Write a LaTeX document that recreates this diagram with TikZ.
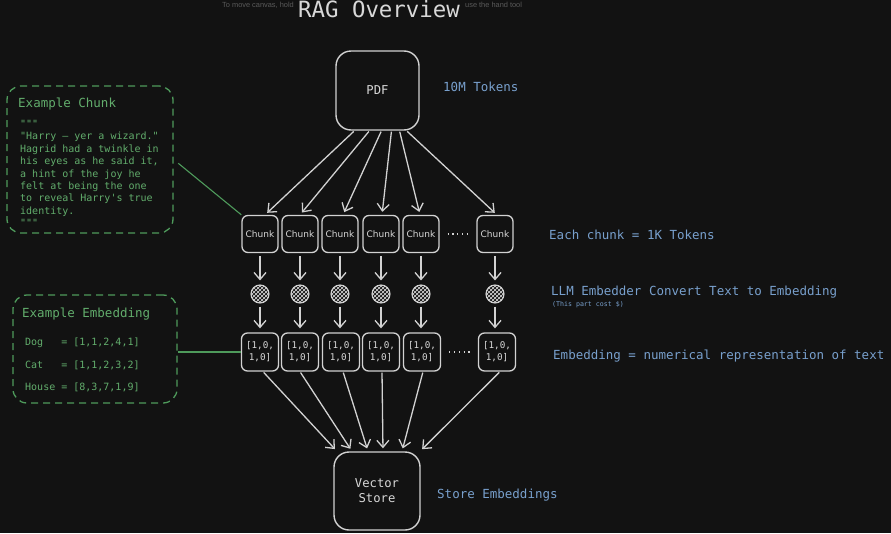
\documentclass[tikz,border=0pt]{standalone}
\usepackage{fontspec}
\setmainfont{Liberation Sans}
\setmonofont{DejaVu Sans Mono}
\setsansfont{DejaVu Sans}
\usetikzlibrary{arrows.meta,calc}
\definecolor{bg}{HTML}{121212}
\definecolor{linec}{HTML}{D2D2D2}
\definecolor{boxtext}{HTML}{D8D8D8}
\definecolor{grn}{HTML}{62AD6C}
\definecolor{grnline}{HTML}{4E9A5B}
\definecolor{blu}{HTML}{78A0CD}
\definecolor{hintc}{HTML}{5A5A5A}
\newcommand\myfs[2]{\fontsize{#1}{#2}\selectfont}
\tikzset{
  bigbox/.style={draw=linec, line width=1.4, rounded corners=15, text=boxtext, font=\ttfamily\myfs{12.2}{15}, align=center},
  chunkbox/.style={draw=linec, line width=1.3, rounded corners=6, minimum width=36, minimum height=37, inner sep=0, text=boxtext, font=\sffamily\myfs{9}{10}},
  embbox/.style={draw=linec, line width=1.3, rounded corners=6, minimum width=37, minimum height=38, inner sep=0, text=boxtext, align=center, font=\ttfamily\myfs{9.3}{12}},
  globe/.style={circle, draw=linec, line width=1.1, minimum size=18, inner sep=0,
    path picture={
      \foreach \i in {-12,-8,...,12}{
        \draw[linec, line width=0.7] ([shift={(\i-12,-12)}]path picture bounding box.center) -- ++(24,24);
        \draw[linec, line width=0.7] ([shift={(\i-12,12)}]path picture bounding box.center) -- ++(24,-24);
      }}},
  arr/.style={draw=linec, line width=1.3, -{Straight Barb[length=7,width=12]}},
  dotsline/.style={draw=linec, line width=1.3, dash pattern=on 1.2 off 3.6},
  exbox/.style={draw=grnline, line width=1.3, dash pattern=on 7 off 5, rounded corners=14},
  grntext/.style={text=grn, inner sep=0, anchor=west},
  blutext/.style={text=blu, inner sep=0, anchor=west, font=\ttfamily\myfs{12.5}{15}},
  gconn/.style={draw=grnline, line width=1.1},
}
\begin{document}
\begin{tikzpicture}[x=1pt,y=-1pt]
\fill[bg] (0,0) rectangle (891,533);
\useasboundingbox (0,0) rectangle (891,533);

% hint and title
\node[text=hintc, font=\rmfamily\myfs{7.4}{9}, inner sep=0, anchor=east] (hintl) at (294,5) {To move canvas, hold};
\node[text=hintc, font=\rmfamily\myfs{7.4}{9}, inner sep=0, anchor=west] (hintr) at (465,5) {use the hand tool};
\node[text=boxtext, font=\ttfamily\myfs{22.4}{26}, anchor=base, inner sep=0] (title) at (379,17) {RAG Overview};

% PDF
\node[bigbox, minimum width=83, minimum height=79] (pdf) at (377.5,90.5) {PDF};
\node[blutext] (t10m) at (443,87) {10M Tokens};

% chunks, globes, embeddings
\foreach \n/\x/\ex in {1/260/260, 2/300/300, 3/340/341, 4/381/381, 5/421/422, 6/495/497}{
  \node[chunkbox] (c\n) at (\x,234) {Chunk};
  \node[globe] (g\n) at (\x,294) {};
  \node[embbox] (e\n) at (\ex,352) {[1,0,\\1,0]};
}
\foreach \n in {1,...,6}{
  \draw[arr, shorten <=3, shorten >=4] (c\n.south) -- (c\n.south |- g\n.north);
  \draw[arr, shorten <=3, shorten >=4] (g\n.south) -- (g\n.south |- e\n.north);
}
\draw[dotsline] ([xshift=8]c5.east) -- ([xshift=-5]c6.west);
\draw[dotsline] ([xshift=8]e5.east) -- ([xshift=-5]e6.west);

% PDF -> chunks
\foreach \n/\o/\t in {1/-23/5, 2/-8/0, 3/4/3, 4/14/1, 5/22/-1, 6/29/2}{
  \draw[arr, shorten <=1, shorten >=3] ([xshift=\o]pdf.south) -- ([xshift=\t]c\n.north);
}

% Vector store
\node[bigbox, minimum width=86, minimum height=78] (vs) at (377,491) {Vector\\Store};
\node[blutext] (tstore) at (437,495) {Store Embeddings};

% embeddings -> vector store
\foreach \n/\o/\t in {1/3/-40, 2/0/-25, 3/2/-9, 4/1/6, 5/1/25, 6/3/43}{
  \draw[arr, shorten <=1, shorten >=3] ([xshift=\o]e\n.south) -- ([xshift=\t]vs.north);
}

% right labels
\node[blutext] (tchunk) at (549,235) {Each chunk = 1K Tokens};
\node[blutext] (tllm) at (551,292) {LLM Embedder Convert Text to Embedding};
\node[blutext, font=\ttfamily\myfs{6.6}{8}] (tcost) at (552,305) {(This part cost \$)};
\node[blutext] (temb) at (553,356) {Embedding = numerical representation of text};

% Example chunk
\node[exbox, minimum width=166, minimum height=147] (exc) at (90,159.5) {};
\node[grntext, font=\ttfamily\myfs{12.5}{15}] (exct) at (18,104) {Example Chunk};
\node[text=grn, inner sep=0, anchor=north west, align=left, font=\ttfamily\myfs{10}{12.4}] (excbody) at (20,120) {"""\\"Harry – yer a wizard."\\Hagrid had a twinkle in\\his eyes as he said it,\\a hint of the joy he\\felt at being the one\\to reveal Harry's true\\identity.\\"""};
\draw[gconn, shorten <=6] (exc.east) -- (c1.north west);

% Example embedding
\node[exbox, minimum width=164, minimum height=108] (exe) at (95,349) {};
\node[grntext, font=\ttfamily\myfs{12.5}{15}] (exet) at (22,314) {Example Embedding};
\node[grntext, font=\ttfamily\myfs{10}{12}] (dog) at (25,343) {Dog\ \ \ = [1,1,2,4,1]};
\node[grntext, font=\ttfamily\myfs{10}{12}] (cat) at (25,365) {Cat\ \ \ = [1,1,2,3,2]};
\node[grntext, font=\ttfamily\myfs{10}{12}] (house) at (25,387) {House = [8,3,7,1,9]};
\draw[gconn] (e1.west -| exe.east) -- (e1.west);
\end{tikzpicture}
\end{document}
